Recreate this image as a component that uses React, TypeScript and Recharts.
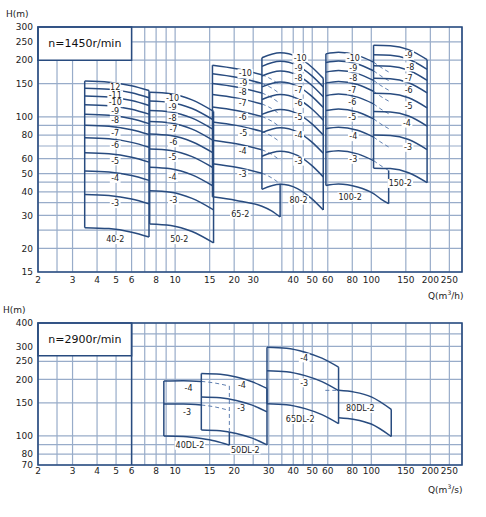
import React from 'react';
import {
  ComposedChart,
  Line,
  XAxis,
  YAxis,
  CartesianGrid,
  ReferenceArea,
  ReferenceLine,
  Scatter,
} from 'recharts';

const NAVY = '#284b7f';
const GRID = '#98acc9';
const DASH = '#5f7fb0';
const FONT = "'DejaVu Sans', sans-serif";

// ---------- axes: top chart (n=1450) ----------
const topXTicks = [2, 2.5, 3, 4, 5, 6, 7, 8, 9, 10, 15, 20, 25, 35, 40, 45, 50, 60, 80, 100, 150, 200, 250];
const topXTickText = ['2', '', '3', '4', '5', '6', '', '8', '', '10', '15', '20', '30', '', '40', '', '50', '60', '80', '100', '150', '200', '250'];
const topYTicks = [15, 20, 25, 30, 35, 40, 45, 50, 60, 70, 80, 90, 100, 150, 200, 250, 300];
const topYTickText = ['15', '20', '', '30', '', '40', '', '50', '60', '', '80', '', '100', '150', '200', '250', '300'];

// ---------- axes: bottom chart (n=2900) ----------
const botXTicks = [2, 2.5, 3, 4, 5, 6, 7, 8, 9, 10, 15, 20, 25, 30, 35, 40, 45, 50, 60, 80, 100, 150, 200, 250];
const botXTickText = ['2', '', '3', '4', '5', '6', '', '8', '', '10', '15', '20', '', '30', '', '40', '', '50', '60', '80', '100', '150', '200', '250'];
const botYTicks = [70, 80, 90, 100, 150, 200, 250, 300, 350, 400];
const botYTickText = ['70', '80', '', '100', '150', '200', '250', '300', '', '400'];

// ---------- top chart curves (Q m3/h, H m) ----------
const q40 = [3.46, 4.6, 6.0, 7.36];
const h40 = [
  [25.8, 25.5, 24.4, 23.0],
  [38.7, 38.2, 36.6, 34.5],
  [51.6, 50.9, 48.8, 46.0],
  [64.5, 63.7, 61.0, 57.5],
  [77.4, 76.4, 73.2, 69.0],
  [90.3, 89.1, 85.4, 80.5],
  [103.2, 101.9, 97.6, 92.0],
  [116.1, 114.6, 109.8, 103.4],
  [129.0, 127.3, 122.0, 114.9],
  [141.9, 140.1, 134.2, 126.4],
  [154.8, 152.8, 146.4, 137.9],
];
const q50 = [7.42, 9.5, 12.2, 15.7];
const h50 = [
  [27.0, 26.5, 24.6, 21.4],
  [40.5, 39.8, 36.9, 32.1],
  [54.0, 53.0, 49.2, 42.8],
  [67.5, 66.3, 61.5, 53.5],
  [81.0, 79.5, 73.8, 64.2],
  [94.5, 92.8, 86.1, 74.8],
  [108.0, 106.1, 98.4, 85.5],
  [121.5, 119.3, 110.7, 96.2],
  [135.0, 132.6, 123.0, 106.9],
];
const q65 = [15.5, 20.5, 27.7, 31, 34.3];
const h65 = [
  [37.6, 36.0, 33.5, 31.7, 29.4],
  [56.4, 54.0, 50.2, 47.5, 44.1],
  [75.2, 72.0, 66.9, 63.3, 58.8],
  [94.0, 90.1, 83.7, 79.1, 73.5],
  [112.8, 108.1, 100.4, 95.0, 88.2],
  [131.6, 126.1, 117.1, 110.8, 102.9],
  [150.4, 144.1, 133.9, 126.6, 117.6],
  [169.2, 162.1, 150.6, 142.5, 132.3],
  [188.0, 180.1, 167.3, 158.3, 147.0],
];
const q80 = [27.7, 34.3, 42, 49.5, 56.9];
const h80 = [
  [41.2, 43.8, 41.6, 36.9, 32.0],
  [61.8, 65.7, 62.4, 55.4, 48.0],
  [82.4, 87.6, 83.2, 73.8, 64.0],
  [103.0, 109.5, 104.0, 92.3, 80.0],
  [123.6, 131.4, 124.8, 110.7, 96.0],
  [144.2, 153.3, 145.6, 129.2, 112.0],
  [164.8, 175.2, 166.4, 147.7, 128.0],
  [185.4, 197.1, 187.2, 166.1, 144.1],
  [206.0, 219.0, 208.1, 184.6, 160.1],
];
const q100 = [58.7, 68, 85, 102.7, 112, 122.6];
const h100 = [
  [43.2, 44.0, 42.4, 39.1, 36.6, 34.6],
  [64.8, 66.0, 63.6, 58.6, 55.0, 51.9],
  [86.4, 88.0, 84.8, 78.1, 73.3, 69.2],
  [108.0, 110.1, 106.1, 97.6, 91.6, 86.6],
  [129.6, 132.1, 127.3, 117.2, 109.9, 103.9],
  [151.2, 154.1, 148.5, 136.7, 128.2, 121.2],
  [172.8, 176.1, 169.7, 156.2, 146.5, 138.5],
  [194.4, 198.1, 190.9, 175.7, 164.9, 155.8],
  [216.0, 220.1, 212.1, 195.3, 183.2, 173.1],
];
const q150 = [102.7, 125, 155, 192.5];
const h150 = [
  [53.4, 53.1, 50.5, 44.7],
  [80.1, 79.6, 75.8, 67.0],
  [106.8, 106.1, 101.1, 89.4],
  [133.5, 132.7, 126.3, 111.7],
  [160.2, 159.2, 151.6, 134.0],
  [186.9, 185.8, 176.8, 156.4],
  [213.6, 212.3, 202.1, 178.7],
  [240.3, 238.8, 227.4, 201.1],
];

// vertical box edges of the top chart: [Q, Hlow, Hhigh]
const topEdges = [
  [3.46, 25.8, 154.8],
  [7.36, 23.0, 137.9],
  [7.42, 27.0, 135.0],
  [15.7, 21.4, 106.9],
  [15.5, 37.6, 188.0],
  [34.3, 29.4, 44.1],
  [27.7, 41.2, 206.0],
  [56.9, 32.0, 160.1],
  [58.7, 43.2, 216.0],
  [122.6, 34.6, 51.9],
  [102.7, 53.4, 240.3],
  [192.5, 44.7, 201.1],
];

// curve labels of the top chart
const topLabels = [
  { q: 4.95, h: 144, t: '12' },
  { q: 4.95, h: 131, t: '-11' },
  { q: 4.95, h: 119, t: '-10' },
  { q: 4.95, h: 107.6, t: '-9' },
  { q: 4.95, h: 95.6, t: '-8' },
  { q: 4.95, h: 81.8, t: '-7' },
  { q: 4.95, h: 70.9, t: '-6' },
  { q: 4.95, h: 58.4, t: '-5' },
  { q: 4.95, h: 47.1, t: '-4' },
  { q: 4.95, h: 34.6, t: '-3' },
  { q: 4.95, h: 22.3, t: '40-2' },
  { q: 9.7, h: 125, t: '-10' },
  { q: 9.7, h: 112.7, t: '-9' },
  { q: 9.7, h: 98.8, t: '-8' },
  { q: 9.8, h: 86, t: '-7' },
  { q: 9.8, h: 72.9, t: '-6' },
  { q: 9.7, h: 60.9, t: '-5' },
  { q: 9.7, h: 47.7, t: '-4' },
  { q: 9.8, h: 36.1, t: '-3' },
  { q: 10.5, h: 22.3, t: '50-2' },
  { q: 22.8, h: 169.6, t: '-10' },
  { q: 22.3, h: 151, t: '-9' },
  { q: 22.1, h: 135, t: '-8' },
  { q: 22.1, h: 118, t: '-7' },
  { q: 22.1, h: 99.6, t: '-6' },
  { q: 22.3, h: 81.8, t: '-5' },
  { q: 22.1, h: 66.1, t: '-4' },
  { q: 22.1, h: 49.6, t: '-3' },
  { q: 21.5, h: 30.4, t: '65-2' },
  { q: 43.4, h: 206, t: '-10' },
  { q: 42.6, h: 182, t: '-9' },
  { q: 42.6, h: 161, t: '-8' },
  { q: 42.6, h: 139, t: '-7' },
  { q: 42.6, h: 118, t: '-6' },
  { q: 42.6, h: 99, t: '-5' },
  { q: 42.6, h: 79.5, t: '-4' },
  { q: 42.6, h: 58.2, t: '-3' },
  { q: 42.6, h: 36.1, t: '80-2' },
  { q: 81, h: 206, t: '-10' },
  { q: 81, h: 182, t: '-9' },
  { q: 81, h: 161, t: '-8' },
  { q: 80, h: 139, t: '-7' },
  { q: 80, h: 119, t: '-6' },
  { q: 80, h: 99.6, t: '-5' },
  { q: 81, h: 78.5, t: '-4' },
  { q: 81, h: 59.5, t: '-3' },
  { q: 78, h: 37.6, t: '100-2' },
  { q: 155, h: 212, t: '-9' },
  { q: 158, h: 184, t: '-8' },
  { q: 155, h: 161, t: '-7' },
  { q: 155, h: 138, t: '-6' },
  { q: 155, h: 114.5, t: '-5' },
  { q: 152, h: 92.6, t: '-4' },
  { q: 154, h: 68.9, t: '-3' },
  { q: 140.6, h: 44.3, t: '150-2' },
];

// ---------- bottom chart curves ----------
const q40dl = [8.76, 11, 13.6, 16, 18.9];
const h40dl = [
  [100.0, 99.4, 97.0, 94.1, 89.3],
  [148.0, 148.0, 146.2, 142.7, 136.7],
  [196.0, 196.7, 195.3, 191.3, 184.4],
];
const q50dl = [13.6, 17, 20.5, 24.5, 29.4];
const h50dl = [
  [107.6, 106.6, 103.1, 97.6, 89.6],
  [161.4, 159.8, 154.6, 146.4, 134.4],
  [215.2, 213.1, 206.2, 195.2, 179.2],
];
const q65dl = [29.4, 37, 46, 56, 68.1];
const h65dl = [
  [148.6, 146.8, 139.8, 129.9, 116.3],
  [222.9, 220.2, 209.7, 194.9, 174.5],
  [297.2, 293.6, 279.6, 259.8, 232.7],
];
const q80dlUpper = [58.3, 68.1, 82, 100, 126.4];
const h80dlUpper = [[175.0, 175.0, 171.2, 161.6, 138.6]];
const q80dlLower = [68.1, 82, 100, 126.4];
const h80dlLower = [[125.2, 122.5, 115.7, 99.3]];

const botEdges = [
  [8.76, 100.0, 196.0],
  [18.9, 89.3, 105.0],
  [13.6, 107.6, 215.2],
  [29.4, 89.6, 179.2],
  [29.4, 148.6, 297.2],
  [68.1, 116.3, 232.7],
  [126.4, 99.3, 138.6],
];
const botDashedEdges = [[18.9, 105.0, 184.4]];

const botLabels = [
  { q: 11.7, h: 180.7, t: '-4' },
  { q: 11.5, h: 134, t: '-3' },
  { q: 11.9, h: 89.2, t: '40DL-2' },
  { q: 21.9, h: 186, t: '-4' },
  { q: 21.7, h: 139.8, t: '-3' },
  { q: 22.8, h: 84.3, t: '50DL-2' },
  { q: 45.5, h: 260.7, t: '-4' },
  { q: 45.5, h: 192, t: '-3' },
  { q: 43.4, h: 122.6, t: '65DL-2' },
  { q: 87.9, h: 140.3, t: '80DL-2' },
];

type Dash = { from: number; to: number; minStage: number };
type Model = { qs: number[]; rows: number[][]; firstStage: number; dash?: Dash };

const topModels: Model[] = [
  { qs: q40, rows: h40, firstStage: 2 },
  { qs: q50, rows: h50, firstStage: 2 },
  { qs: q65, rows: h65, firstStage: 2, dash: { from: 2, to: 4, minStage: 3 } },
  { qs: q80, rows: h80, firstStage: 2 },
  { qs: q100, rows: h100, firstStage: 2, dash: { from: 3, to: 5, minStage: 3 } },
  { qs: q150, rows: h150, firstStage: 2 },
];
const botModels: Model[] = [
  { qs: q40dl, rows: h40dl, firstStage: 2, dash: { from: 2, to: 4, minStage: 3 } },
  { qs: q50dl, rows: h50dl, firstStage: 2 },
  { qs: q65dl, rows: h65dl, firstStage: 2 },
  { qs: q80dlUpper, rows: h80dlUpper, firstStage: 2, dash: { from: 0, to: 1, minStage: 2 } },
  { qs: q80dlLower, rows: h80dlLower, firstStage: 2 },
];

const lineProps = {
  dataKey: 'h',
  dot: false,
  activeDot: false,
  isAnimationActive: false,
  legendType: 'none' as const,
};

function buildCurves(models: Model[], prefix: string) {
  const out: React.ReactNode[] = [];
  models.forEach((m, mi) => {
    m.rows.forEach((hs, ri) => {
      const stage = m.firstStage + ri;
      const pts = m.qs.map((q, i) => ({ q, h: hs[i] }));
      const d = m.dash;
      if (d && stage >= d.minStage) {
        const solid = d.from === 0 ? pts.slice(d.to) : pts.slice(0, d.from + 1);
        const dashed = pts.slice(d.from, d.to + 1);
        out.push(
          <Line key={`${prefix}-s-${mi}-${ri}`} {...lineProps} data={solid} type="monotone" stroke={NAVY} strokeWidth={1.5} />
        );
        out.push(
          <Line key={`${prefix}-d-${mi}-${ri}`} {...lineProps} data={dashed} type="monotone" stroke={DASH} strokeWidth={1} strokeDasharray="4 3" />
        );
      } else {
        out.push(
          <Line key={`${prefix}-s-${mi}-${ri}`} {...lineProps} data={pts} type="monotone" stroke={NAVY} strokeWidth={1.5} />
        );
      }
    });
  });
  return out;
}

function buildEdges(edges: number[][], prefix: string, dashed: boolean) {
  return edges.map((e, i) => (
    <Line
      key={`${prefix}-${i}`}
      {...lineProps}
      data={[{ q: e[0], h: e[1] }, { q: e[0], h: e[2] }]}
      type="linear"
      stroke={dashed ? DASH : NAVY}
      strokeWidth={dashed ? 1 : 1.5}
      strokeDasharray={dashed ? '4 3' : undefined}
    />
  ));
}

const LabelShape = (props: any) => {
  const { cx, cy } = props;
  const t: string = (props.payload && props.payload.t) || props.t || '';
  if (cx == null || cy == null || !t) return <g />;
  const w = t.length * 4.9 + 1;
  return (
    <g>
      <rect x={cx - w / 2} y={cy - 4.5} width={w} height={9} fill="#ffffff" />
      <text x={cx} y={cy} dy="0.35em" textAnchor="middle" fontSize={8} fontFamily={FONT} fill="#222">
        {t}
      </text>
    </g>
  );
};

const fmt = (ticks: number[], texts: string[]) => (v: number) => {
  const i = ticks.indexOf(v);
  return i >= 0 ? texts[i] : '';
};

const tickStyle = { fontSize: 9, fill: '#222', fontFamily: FONT };

const titleStyle: React.CSSProperties = {
  position: 'absolute',
  fontFamily: FONT,
  fontSize: 9,
  color: '#222',
  lineHeight: '10px',
  whiteSpace: 'nowrap',
};

export default function App() {
  return (
    <div style={{ position: 'absolute', left: 0, top: 0, width: 486, height: 517, background: '#fff' }}>
      <div style={{ position: 'absolute', left: 0, top: 0 }}>
        <ComposedChart width={486} height={300} margin={{ top: 27, right: 24, bottom: 8, left: 8 }}>
          <CartesianGrid stroke={GRID} strokeWidth={1.2} />
          <XAxis
            dataKey="q"
            type="number"
            scale="log"
            domain={[2, 290]}
            allowDataOverflow
            ticks={topXTicks}
            interval={0}
            tickFormatter={fmt(topXTicks, topXTickText)}
            tickLine={false}
            axisLine={false}
            tickSize={0}
            tickMargin={5}
            tick={tickStyle}
            height={20}
          />
          <YAxis
            dataKey="h"
            type="number"
            scale="log"
            domain={[15, 300]}
            allowDataOverflow
            ticks={topYTicks}
            interval={0}
            tickFormatter={fmt(topYTicks, topYTickText)}
            tickLine={false}
            axisLine={false}
            tickSize={0}
            tickMargin={5}
            tick={tickStyle}
            width={30}
          />
          <ReferenceArea
            x1={2}
            x2={6}
            y1={200}
            y2={300}
            fill="#ffffff"
            fillOpacity={1}
            stroke={NAVY}
            strokeWidth={1.5}
            label={{ value: 'n=1450r/min', position: 'center', fontSize: 11, fill: '#111', fontFamily: FONT }}
          />
          <ReferenceArea x1={2} x2={290} y1={15} y2={300} fill="none" fillOpacity={0} stroke={NAVY} strokeWidth={1.6} />
          {buildCurves(topModels, 'top')}
          {buildEdges(topEdges, 'tedge', false)}
          <Scatter data={topLabels} dataKey="h" shape={LabelShape} isAnimationActive={false} legendType="none" />
        </ComposedChart>
      </div>
      <div style={{ position: 'absolute', left: 0, top: 300 }}>
        <ComposedChart width={486} height={217} margin={{ top: 23, right: 24, bottom: 32, left: 8 }}>
          <CartesianGrid stroke={GRID} strokeWidth={1.2} />
          <XAxis
            dataKey="q"
            type="number"
            scale="log"
            domain={[2, 290]}
            allowDataOverflow
            ticks={botXTicks}
            interval={0}
            tickFormatter={fmt(botXTicks, botXTickText)}
            tickLine={false}
            axisLine={false}
            tickSize={0}
            tickMargin={3}
            tick={tickStyle}
            height={20}
          />
          <YAxis
            dataKey="h"
            type="number"
            scale="log"
            domain={[70, 400]}
            allowDataOverflow
            ticks={botYTicks}
            interval={0}
            tickFormatter={fmt(botYTicks, botYTickText)}
            tickLine={false}
            axisLine={false}
            tickSize={0}
            tickMargin={5}
            tick={tickStyle}
            width={30}
          />
          <ReferenceArea
            x1={2}
            x2={6}
            y1={268}
            y2={400}
            fill="#ffffff"
            fillOpacity={1}
            stroke={NAVY}
            strokeWidth={1.5}
            label={{ value: 'n=2900r/min', position: 'center', fontSize: 11, fill: '#111', fontFamily: FONT }}
          />
          <ReferenceLine x={6} stroke={NAVY} strokeWidth={1.5} />
          <ReferenceArea x1={2} x2={290} y1={70} y2={400} fill="none" fillOpacity={0} stroke={NAVY} strokeWidth={1.6} />
          {buildCurves(botModels, 'bot')}
          {buildEdges(botEdges, 'bedge', false)}
          {buildEdges(botDashedEdges, 'bdedge', true)}
          <Scatter data={botLabels} dataKey="h" shape={LabelShape} isAnimationActive={false} legendType="none" />
        </ComposedChart>
      </div>
      <div style={{ ...titleStyle, left: 6, top: 9 }}>H(m)</div>
      <div style={{ ...titleStyle, left: 3, top: 305 }}>H(m)</div>
      <div style={{ ...titleStyle, left: 428, top: 288 }}>
        Q(m<sup style={{ fontSize: 6 }}>3</sup>/h)
      </div>
      <div style={{ ...titleStyle, left: 428, top: 482 }}>
        Q(m<sup style={{ fontSize: 6 }}>3</sup>/s)
      </div>
    </div>
  );
}
